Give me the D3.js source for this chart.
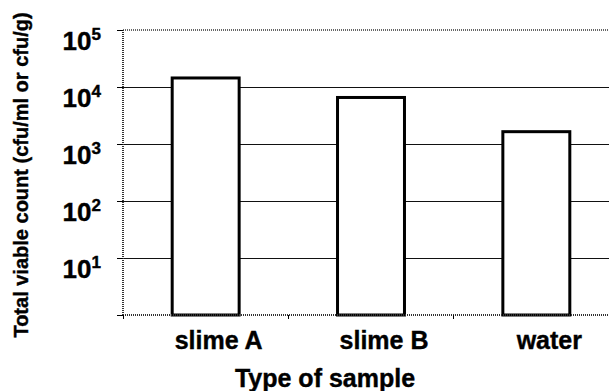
<!DOCTYPE html>
<html>
<head>
<meta charset="utf-8">
<script src="https://cdn.jsdelivr.net/npm/d3@7"></script>
<style>
  body { margin: 0; background: #fff; }
  text { font-family: "Liberation Sans", Arial, sans-serif; font-weight: bold; fill: #000; stroke: #000; stroke-width: 0.4px; }
  line, path { shape-rendering: crispEdges; }
</style>
</head>
<body>
<script>
const W = 609
const H = 391
const categories = ["slime A", "slime B", "water"]
const counts = [14400, 6550, 1645]
const exponents = [1, 2, 3, 4, 5]

const PLOT_L = 123, PLOT_R = 619, PLOT_T = 30, PLOT_B = 315

var svg = d3.select("body").append("svg")
    .attr("width", W)
    .attr("height", H)

var x = d3.scaleBand()
    .domain(categories)
    .range([PLOT_L, PLOT_R])
    .padding(0)

var y = d3.scaleLog()
    .domain([1, 1e5])
    .range([PLOT_B, PLOT_T])

// gridlines at 10^1..10^4
svg.append("g").selectAll("line")
    .data(exponents.slice(0, 4))
    .enter().append("line")
    .attr("x1", PLOT_L).attr("x2", W)
    .attr("y1", d => Math.round(y(Math.pow(10, d))) + 0.5)
    .attr("y2", d => Math.round(y(Math.pow(10, d))) + 0.5)
    .attr("stroke", "#111")
    .attr("stroke-width", 1)

// top border (dotted)
svg.append("line")
    .attr("x1", PLOT_L).attr("x2", W)
    .attr("y1", PLOT_T).attr("y2", PLOT_T)
    .attr("stroke", "#666")
    .attr("stroke-width", 2)
    .attr("stroke-dasharray", "1,1")

// bars
var bw = x.bandwidth() * 0.405
svg.append("g").selectAll("rect")
    .data(categories)
    .enter().append("rect")
    .attr("x", d => x(d) + x.bandwidth() / 2 - bw / 2)
    .attr("y", (d, i) => y(counts[i]))
    .attr("width", bw)
    .attr("height", (d, i) => PLOT_B - y(counts[i]))
    .attr("fill", "#fff")
    .attr("stroke", "#000")
    .attr("stroke-width", 3)

// y axis
var yAxis = d3.axisLeft(y)
    .tickValues(exponents.map(e => Math.pow(10, e)).concat([1]))
    .tickSize(6)
    .tickFormat("")
var gy = svg.append("g")
    .attr("transform", "translate(" + PLOT_L + ",0)")
    .call(yAxis)
gy.select(".domain")
    .attr("stroke", "#333")
    .attr("stroke-width", 2)
    .attr("stroke-dasharray", "1,1")
    .attr("d", "M0," + PLOT_B + "V" + PLOT_T)
gy.selectAll(".tick line").attr("stroke", "#000")

// x axis
var xAxis = d3.axisBottom(x)
    .tickValues([])
    .tickSizeOuter(0)
var gx = svg.append("g")
    .attr("transform", "translate(0," + PLOT_B + ")")
    .call(xAxis)
gx.select(".domain")
    .attr("stroke", "#333")
    .attr("stroke-width", 2)
    .attr("stroke-dasharray", "1,1")
    .attr("d", "M" + PLOT_L + ",0H" + W)

// category boundary ticks
gx.selectAll(".bound")
    .data(categories.slice(1))
    .enter().append("line")
    .attr("x1", d => x(d)).attr("x2", d => x(d))
    .attr("y1", 0).attr("y2", 4)
    .attr("stroke", "#000")
gx.append("line")
    .attr("x1", PLOT_L).attr("x2", PLOT_L)
    .attr("y1", 0).attr("y2", 4)
    .attr("stroke", "#000")

// y tick labels 10^n
var lab = svg.append("g").selectAll("text")
    .data(exponents)
    .enter().append("text")
    .attr("x", 101)
    .attr("y", d => y(Math.pow(10, d)) + 20)
    .attr("text-anchor", "end")
    .style("font-size", "26px")
lab.append("tspan").text("10")
lab.append("tspan")
    .attr("dy", -10)
    .style("font-size", "17px")
    .text(d => d)

// category labels
svg.append("g").selectAll("text")
    .data(categories)
    .enter().append("text")
    .attr("x", d => x(d) + x.bandwidth() / 2 + 13)
    .attr("y", 349)
    .attr("text-anchor", "middle")
    .style("font-size", "25px")
    .text(d => d)

// axis titles
svg.append("text")
    .attr("x", 325)
    .attr("y", 387)
    .attr("text-anchor", "middle")
    .style("font-size", "25px")
    .text("Type of sample")

svg.append("text")
    .attr("transform", "translate(28,175) rotate(-90)")
    .attr("text-anchor", "middle")
    .style("font-size", "20px")
    .text("Total viable count (cfu/ml or cfu/g)")
</script>
</body>
</html>
